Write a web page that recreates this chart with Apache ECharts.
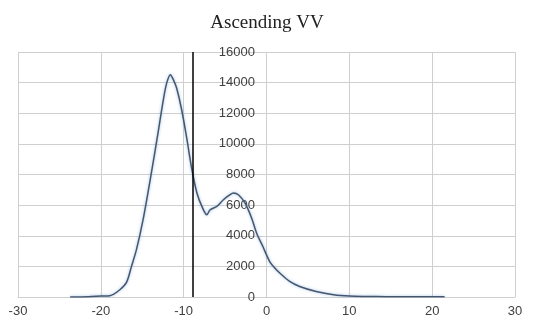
<!DOCTYPE html>
<html>
<head>
<meta charset="utf-8">
<script src="https://cdn.jsdelivr.net/npm/echarts@6/dist/echarts.min.js"></script>
<style>
  html, body { margin: 0; padding: 0; background: #fff; }
  #chart { width: 534px; height: 319px; }
</style>
</head>
<body>
<div id="chart"></div>
<script>
// values
var xValues = [-23.7, -21.5, -20, -18.9, -17.7, -16.9, -16.3, -15.7, -14.9, -13.9, -13.1, -12.45, -12.05, -11.6,
  -11.25, -10.85, -10.24, -9.6, -9.0, -8.4, -7.8, -7.2, -6.8, -6.0, -5.2, -4.4, -4.0, -3.4, -2.6, -1.8,
  -1.2, -0.4, 0.4, 1.0, 1.6, 2.8, 4.0, 6.0, 8.1, 10, 12, 14.5, 18.5, 21.5];
var yValues = [0, 20, 60, 85, 475, 950, 2000, 3090, 5050, 8100, 10700, 12890, 13970, 14520,
  14200, 13650, 12230, 10270, 8310, 6790, 5920, 5370, 5700, 5920, 6350, 6680, 6790, 6680, 6140, 5160,
  4180, 3250, 2300, 1900, 1570, 1020, 690, 365, 150, 60, 35, 20, 15, 10];
var crossAt = -8.9;
var xTicks = { min: -30, max: 30, step: 10 };
var yTicks = { min: 0, max: 16000, step: 2000 };

(function() {
  var grid = '#cfcfcf';
  var ink = '#404040';

  var points = xValues.map(function(x, i) { return [x, yValues[i]]; });

  var chart = echarts.init(document.getElementById('chart'), null, { renderer: 'canvas' });
  chart.setOption({
    animation: false,
    backgroundColor: '#fff',
    title: {
      text: 'Ascending VV',
      left: 'center',
      top: 9,
      textStyle: { fontFamily: 'Liberation Serif', fontWeight: 'normal', fontSize: 19, color: '#222' }
    },
    grid: { left: 18, right: 19, top: 52, bottom: 22, outerBoundsMode: 'none' },
    xAxis: {
      type: 'value',
      min: xTicks.min,
      max: xTicks.max,
      interval: xTicks.step,
      axisLine: { lineStyle: { color: grid } },
      axisTick: { show: false },
      axisLabel: { color: ink, fontFamily: 'Liberation Sans', fontSize: 13, margin: 8 },
      splitLine: { lineStyle: { color: grid } }
    },
    yAxis: {
      type: 'value',
      min: yTicks.min,
      max: yTicks.max,
      interval: yTicks.step,
      offset: -245,
      axisLine: { show: false },
      axisTick: { show: false },
      axisLabel: {
        color: ink, fontFamily: 'Liberation Sans', fontSize: 13, margin: 8,
        formatter: function(v) { return String(v); }
      },
      splitLine: { lineStyle: { color: grid } }
    },
    series: [{
      type: 'line',
      data: points,
      smooth: 0.3,
      showSymbol: false,
      lineStyle: {
        color: '#46566e',
        width: 1.5,
        shadowColor: 'rgba(110,160,215,0.7)',
        shadowBlur: 3
      },
      markLine: {
        silent: true,
        symbol: 'none',
        label: { show: false },
        lineStyle: { color: '#000', width: 1.5, type: 'solid' },
        data: [{ xAxis: crossAt }]
      }
    }]
  });

  window.addEventListener('resize', function() { chart.resize(); });
})();
</script>
</body>
</html>
